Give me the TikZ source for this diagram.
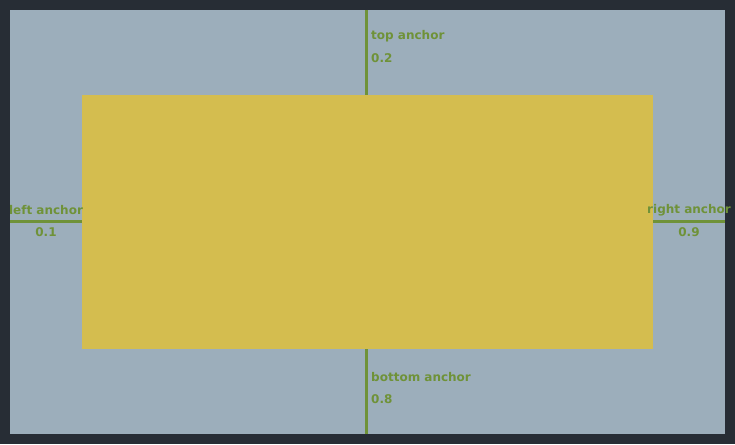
\documentclass[tikz,border=0pt]{standalone}
\usepackage{fontspec}
\setmainfont{DejaVu Sans}
\definecolor{frame}{HTML}{272D35}
\definecolor{bgc}{HTML}{9CAEBB}
\definecolor{boxc}{HTML}{D4BD4F}
\definecolor{linec}{HTML}{6F9238}
\tikzset{
  lbl/.style={text=linec, font=\fontsize{12}{14}\selectfont\bfseries, inner sep=0pt},
  conn/.style={draw=linec, line width=3pt},
}
\begin{document}
\begin{tikzpicture}[x=1pt,y=-1pt]
\fill[frame] (0,0) rectangle (735,444);
\useasboundingbox (0,0) rectangle (735,444);
\fill[bgc] (10,10) rectangle (725,434);
\node[fill=boxc, minimum width=571pt, minimum height=254pt, inner sep=0pt, anchor=north west] (box) at (82,95) {};
\coordinate (topend) at (366,10);
\coordinate (botend) at (366,434);
\coordinate (leftend) at (10,221);
\coordinate (rightend) at (725,221);
\draw[conn] (topend) -- (topend |- box.north);
\draw[conn] (botend) -- (botend |- box.south);
\draw[conn] (leftend) -- (leftend -| box.west);
\draw[conn] (rightend) -- (rightend -| box.east);
\node[lbl, anchor=west] (tl) at (371,36) {top anchor};
\node[lbl, anchor=west] (tv) at (371,58) {0.2};
\node[lbl] (ll) at (46,210.5) {left anchor};
\node[lbl] (lv) at (46,232.5) {0.1};
\node[lbl] (rl) at (689,210.5) {right anchor};
\node[lbl] (rv) at (689,232.5) {0.9};
\node[lbl, anchor=west] (bl) at (371,377) {bottom anchor};
\node[lbl, anchor=west] (bv) at (371,399) {0.8};
\end{tikzpicture}
\end{document}
